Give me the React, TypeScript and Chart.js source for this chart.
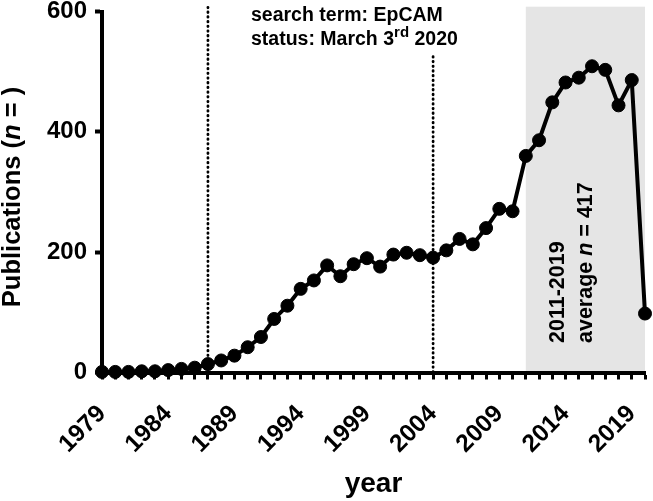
import React, { useEffect, useRef } from "react";
import { Chart, registerables } from "chart.js";

Chart.register(...registerables);

const years: number[] = [
  1979, 1980, 1981, 1982, 1983, 1984, 1985, 1986, 1987, 1988,
  1989, 1990, 1991, 1992, 1993, 1994, 1995, 1996, 1997, 1998,
  1999, 2000, 2001, 2002, 2003, 2004, 2005, 2006, 2007, 2008,
  2009, 2010, 2011, 2012, 2013, 2014, 2015, 2016, 2017, 2018,
  2019, 2020,
];
const publications: number[] = [
  1, 1, 1, 2, 2, 4, 6, 8, 14, 20,
  28, 42, 59, 89, 111, 139, 153, 178, 160, 180,
  190, 176, 196, 199, 195, 191, 203, 222, 213, 240,
  272, 268, 360, 386, 449, 482, 490, 509, 503, 444,
  486, 98,
];
const xTickLabels: number[] = [1979, 1984, 1989, 1994, 1999, 2004, 2009, 2014, 2019];
const yTicks: number[] = [0, 200, 400, 600];

// annotations (data-space)
const shadeRange: number[] = [2011, 2020];
const dottedLineYears: number[] = [1987, 2004];
const dottedLineTops: number[] = [607, 525];
const annotationTop = 608;

const FONT = '"Liberation Sans", Arial, Helvetica, sans-serif';

type Part = { text: string; italic?: boolean; size: number; rise?: number };

function drawParts(
  ctx: CanvasRenderingContext2D,
  parts: Part[],
  x: number,
  y: number,
  rotation: number,
  align: "left" | "center"
) {
  ctx.save();
  ctx.translate(x, y);
  ctx.rotate(rotation);
  ctx.textBaseline = "alphabetic";
  ctx.textAlign = "left";
  ctx.fillStyle = "#000";
  let total = 0;
  const widths = parts.map((p) => {
    ctx.font = `${p.italic ? "italic " : ""}bold ${p.size}px ${FONT}`;
    const w = ctx.measureText(p.text).width;
    total += w;
    return w;
  });
  let cx = align === "center" ? -total / 2 : 0;
  parts.forEach((p, i) => {
    ctx.font = `${p.italic ? "italic " : ""}bold ${p.size}px ${FONT}`;
    ctx.fillText(p.text, cx, -(p.rise || 0));
    cx += widths[i];
  });
  ctx.restore();
}

const annotationPlugin = {
  id: "annotations",
  beforeDraw(chart: any) {
    const { ctx, scales } = chart;
    const xs = scales.x;
    const ys = scales.y;
    ctx.save();
    const x0 = xs.getPixelForValue(shadeRange[0]);
    const x1 = xs.getPixelForValue(shadeRange[1]);
    const yTop = ys.getPixelForValue(annotationTop);
    const yBot = ys.getPixelForValue(0);
    ctx.fillStyle = "#e5e5e5";
    ctx.fillRect(x0, yTop, x1 - x0, yBot - yTop);
    ctx.strokeStyle = "#000";
    ctx.lineWidth = 2.8;
    ctx.lineCap = "round";
    ctx.setLineDash([0.5, 4.2]);
    dottedLineYears.forEach((yr, i) => {
      const px = xs.getPixelForValue(yr);
      ctx.beginPath();
      ctx.moveTo(px, ys.getPixelForValue(dottedLineTops[i]));
      ctx.lineTo(px, yBot);
      ctx.stroke();
    });
    ctx.restore();
  },
  afterDraw(chart: any) {
    const { ctx, chartArea } = chart;
    drawParts(
      ctx,
      [
        { text: "Publications (", size: 25.5 },
        { text: "n", size: 25.5, italic: true },
        { text: " = )", size: 25.5 },
      ],
      20,
      (chartArea.top + chartArea.bottom) / 2 + 5,
      -Math.PI / 2,
      "center"
    );
    drawParts(ctx, [{ text: "search term: EpCAM", size: 19.5 }], 251, 21, 0, "left");
    drawParts(
      ctx,
      [
        { text: "status: March 3", size: 19.5 },
        { text: "rd", size: 15, rise: 8 },
        { text: " 2020", size: 19.5 },
      ],
      251,
      45,
      0,
      "left"
    );
    drawParts(ctx, [{ text: "2011-2019", size: 21.5 }], 564, 343, -Math.PI / 2, "left");
    drawParts(
      ctx,
      [
        { text: "average ", size: 21.5 },
        { text: "n", size: 21.5, italic: true },
        { text: " = 417", size: 21.5 },
      ],
      592,
      343,
      -Math.PI / 2,
      "left"
    );
  },
};

function zeroPadding(scale: any) {
  scale.paddingLeft = 0;
  scale.paddingRight = 0;
  scale.paddingTop = 0;
  scale.paddingBottom = 0;
}

export default function App() {
  const canvasRef = useRef<HTMLCanvasElement | null>(null);

  useEffect(() => {
    document.body.style.margin = "0";
    const canvas = canvasRef.current;
    if (!canvas) return;
    const chart = new Chart(canvas, {
      type: "line",
      data: {
        datasets: [
          {
            data: years.map((y, i) => ({ x: y, y: publications[i] })),
            borderColor: "#000",
            backgroundColor: "#000",
            borderWidth: 4,
            pointRadius: 6.5,
            pointBorderWidth: 1,
            pointBackgroundColor: "#000",
            pointBorderColor: "#000",
            tension: 0,
            clip: false as any,
          },
        ],
      },
      options: {
        responsive: false,
        animation: false,
        devicePixelRatio: 1,
        layout: { padding: { left: 0, right: 8, top: 11.5, bottom: 0 } },
        plugins: {
          legend: { display: false },
          tooltip: { enabled: false },
        },
        scales: {
          x: {
            type: "linear",
            min: 1979,
            max: 2020,
            afterFit: (scale: any) => {
              scale.height = 128.5;
              zeroPadding(scale);
            },
            afterBuildTicks: (scale: any) => {
              scale.ticks = years.map((v) => ({ value: v }));
            },
            ticks: {
              autoSkip: false,
              maxRotation: 45,
              minRotation: 45,
              padding: 20,
              color: "#000",
              font: { family: FONT, size: 24.5, weight: "bold" },
              callback: (v: any) => (xTickLabels.includes(Number(v)) ? String(v) : ""),
            },
            grid: {
              display: true,
              drawOnChartArea: false,
              drawTicks: true,
              tickLength: 7,
              tickWidth: 3,
              tickColor: "#000",
            },
            border: { display: true, color: "#000", width: 4 },
            title: {
              display: true,
              text: "year",
              color: "#000",
              font: { family: FONT, size: 28, weight: "bold" },
              padding: { top: 0, bottom: 0 },
            },
          },
          y: {
            type: "linear",
            min: 0,
            max: 600,
            afterFit: (scale: any) => {
              scale.width = 102;
              zeroPadding(scale);
            },
            afterBuildTicks: (scale: any) => {
              scale.ticks = yTicks.map((v) => ({ value: v }));
            },
            ticks: {
              padding: 8,
              color: "#000",
              font: { family: FONT, size: 24, weight: "bold" },
            },
            grid: {
              display: true,
              drawOnChartArea: false,
              drawTicks: true,
              tickLength: 7,
              tickWidth: 4,
              tickColor: "#000",
            },
            border: { display: true, color: "#000", width: 4 },
          },
        },
      },
      plugins: [annotationPlugin],
    });
    return () => chart.destroy();
  }, []);

  return (
    <div style={{ width: 653, height: 501 }}>
      <canvas ref={canvasRef} width={653} height={501} />
    </div>
  );
}
